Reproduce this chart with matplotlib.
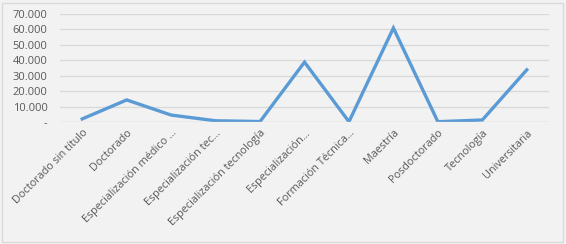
import matplotlib
matplotlib.use("Agg")
import matplotlib.pyplot as plt
from matplotlib.patches import Rectangle
from matplotlib.ticker import FuncFormatter

categories = [
    "Doctorado sin título",
    "Doctorado",
    "Especialización médico ...",
    "Especialización tec...",
    "Especialización tecnología",
    "Especialización...",
    "Formación Técnica...",
    "Maestría",
    "Posdoctorado",
    "Tecnología",
    "Universitaria",
]
values = [2000, 14300, 4500, 800, 300, 38800, 200, 60900, 200, 1300, 33800]
y_ticks = [0, 10000, 20000, 30000, 40000, 50000, 60000, 70000]

bg = "#f2f2f2"
text_gray = "#595959"


def fmt(v, pos):
    if v == 0:
        return "-"
    return f"{int(v):,}".replace(",", ".")


plt.rcParams["font.family"] = ["Open Sans", "DejaVu Sans"]

fig = plt.figure(figsize=(5.66, 2.44), dpi=100, facecolor=bg)
ax = fig.add_axes([60 / 566, 1 - 122 / 244, 489 / 566, 108 / 244])
ax.set_facecolor(bg)

x = list(range(len(categories)))
ax.plot(x, values, color="#5b9bd5", linewidth=2.4, solid_joinstyle="miter")

ax.set_xlim(-0.5, len(categories) - 0.5)
ax.set_ylim(0, 70000)
ax.set_yticks(y_ticks)
ax.yaxis.set_major_formatter(FuncFormatter(fmt))
ax.grid(axis="y", color="#d9d9d9", linewidth=0.9)
ax.set_axisbelow(True)
for s in ax.spines.values():
    s.set_visible(False)
ax.axhline(0, color="#d9d9d9", linewidth=0.9)

ax.set_xticks(x)
ax.set_xticklabels(categories, rotation=45, ha="right", rotation_mode="anchor",
                   fontsize=7.8, color=text_gray)
ax.tick_params(axis="y", labelsize=8, labelcolor=text_gray, length=0, pad=9)
ax.tick_params(axis="x", length=0, pad=4)

fig.patches.append(Rectangle((2 / 566, 2 / 244), 561 / 566, 239 / 244,
                             transform=fig.transFigure, fill=False,
                             edgecolor="#d9d9d9", linewidth=1))

fig.savefig("out.png", dpi=100, facecolor=bg)
